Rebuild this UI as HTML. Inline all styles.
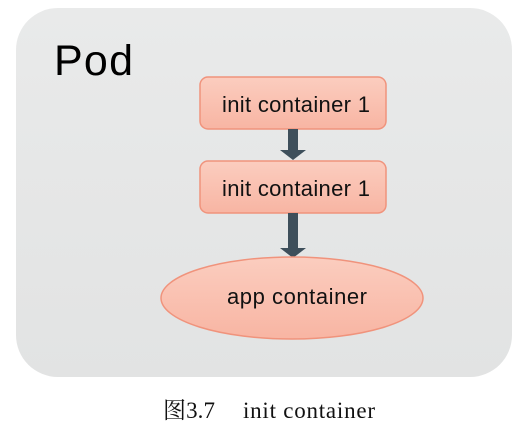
<!DOCTYPE html>
<html><head><meta charset="utf-8"><style>
html,body{margin:0;padding:0;background:#fff;width:530px;height:430px;overflow:hidden}
</style></head><body>
<svg width="530" height="430" xmlns="http://www.w3.org/2000/svg">
<defs>
<linearGradient id="pg" x1="0" y1="0" x2="0" y2="1">
<stop offset="0" stop-color="#e9eaea"/><stop offset="1" stop-color="#e2e3e3"/>
</linearGradient>
<linearGradient id="bx" x1="0" y1="0" x2="0" y2="1">
<stop offset="0" stop-color="#fbcdbf"/><stop offset="1" stop-color="#f8b5a3"/>
</linearGradient>
</defs>
<rect x="16" y="8" width="496" height="369" rx="42" fill="url(#pg)"/>
<text x="54" y="75" font-family="Liberation Sans, sans-serif" font-size="43" fill="#000" textLength="79">Pod</text>
<rect x="200" y="77" width="186" height="52" rx="8" fill="url(#bx)" stroke="#f0937c" stroke-width="1.5"/>
<text x="222" y="112" font-family="Liberation Sans, sans-serif" font-size="22" fill="#111" textLength="148">init container 1</text>
<rect x="200" y="161" width="186" height="52" rx="8" fill="url(#bx)" stroke="#f0937c" stroke-width="1.5"/>
<text x="222" y="196" font-family="Liberation Sans, sans-serif" font-size="22" fill="#111" textLength="148">init container 1</text>
<polygon points="288,129 298,129 298,150 306,150 293,160 280,150 288,150" fill="#3e4f5b"/>
<polygon points="288,213 298,213 298,248 306,248 293,258 280,248 288,248" fill="#3e4f5b"/>
<ellipse cx="292" cy="298" rx="131" ry="41" fill="url(#bx)" stroke="#f0937c" stroke-width="1.5"/>
<text x="227" y="304" font-family="Liberation Sans, sans-serif" font-size="22" fill="#111" textLength="140">app container</text>
<text x="163" y="418" font-family="Liberation Serif, 'Noto Serif CJK SC', serif" font-size="23" fill="#111"><tspan textLength="52">图3.7</tspan><tspan x="243" textLength="132">init container</tspan></text>
</svg>
</body></html>
